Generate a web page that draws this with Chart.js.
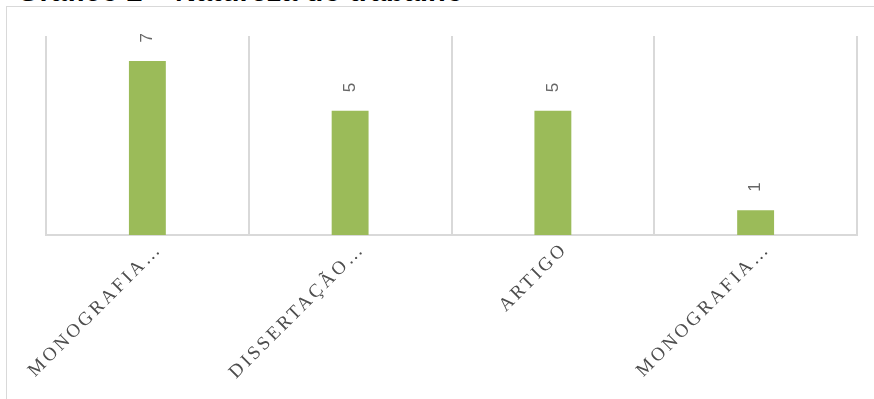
<!DOCTYPE html>
<html>
<head>
<meta charset="utf-8">
<script src="https://cdn.jsdelivr.net/npm/chart.js@4"></script>
<style>
  html, body { margin: 0; padding: 0; background: #fff; overflow: hidden; }
  #title {
    position: absolute; left: 17px; top: -23px;
    font: bold 29px "Liberation Sans", Arial, sans-serif; color: #000;
    line-height: 29px; white-space: nowrap;
  }
  #frame {
    position: absolute; left: 6px; top: 6px; width: 880px; height: 420px;
    border: 1.5px solid #d9d9d9; box-sizing: border-box;
  }
  #chart { position: absolute; left: 0; top: 0; }
</style>
</head>
<body>
<div id="title">Gráfico 2 – Natureza do trabalho</div>
<div id="frame"></div>
<canvas id="chart" width="874" height="399"></canvas>
<script>
const categories = ["MONOGRAFIA…", "DISSERTAÇÃO…", "ARTIGO", "MONOGRAFIA…"];
const counts = [7, 5, 5, 1];
const yMax = 8;

const barLabels = {
  id: "barLabels",
  beforeDraw(chart) {
    chart.ctx.letterSpacing = "3px";
  },
  afterDatasetsDraw(chart) {
    const ctx = chart.ctx;
    const meta = chart.getDatasetMeta(0);
    ctx.save();
    ctx.letterSpacing = "0px";
    ctx.fillStyle = "#666666";
    ctx.font = "17px 'Liberation Sans', Arial, sans-serif";
    ctx.textAlign = "center";
    ctx.textBaseline = "middle";
    meta.data.forEach((bar, i) => {
      ctx.save();
      ctx.translate(bar.x, bar.y - 23);
      ctx.rotate(-Math.PI / 2);
      ctx.fillText(String(counts[i]), 0, 0);
      ctx.restore();
    });
    ctx.restore();
  }
};

new Chart(document.getElementById("chart"), {
  type: "bar",
  data: {
    labels: categories,
    datasets: [{
      data: counts,
      backgroundColor: "#9bbb59",
      categoryPercentage: 1,
      barPercentage: 0.182
    }]
  },
  options: {
    responsive: false,
    animation: false,
    layout: { padding: { left: 46, right: 17, top: 36, bottom: 0 } },
    plugins: { legend: { display: false }, tooltip: { enabled: false } },
    scales: {
      y: { display: false, min: 0, max: yMax },
      x: {
        afterFit(scale) { scale.height = 164; },
        border: { color: "#d9d9d9", width: 2 },
        grid: { color: "#d9d9d9", lineWidth: 2, drawTicks: false, offset: true },
        ticks: {
          autoSkip: false,
          minRotation: 45,
          maxRotation: 45,
          padding: 3,
          labelOffset: 12,
          color: "#4d4d4d",
          font: { family: "'Liberation Serif', serif", size: 19 }
        }
      }
    }
  },
  plugins: [barLabels]
});
</script>
</body>
</html>
